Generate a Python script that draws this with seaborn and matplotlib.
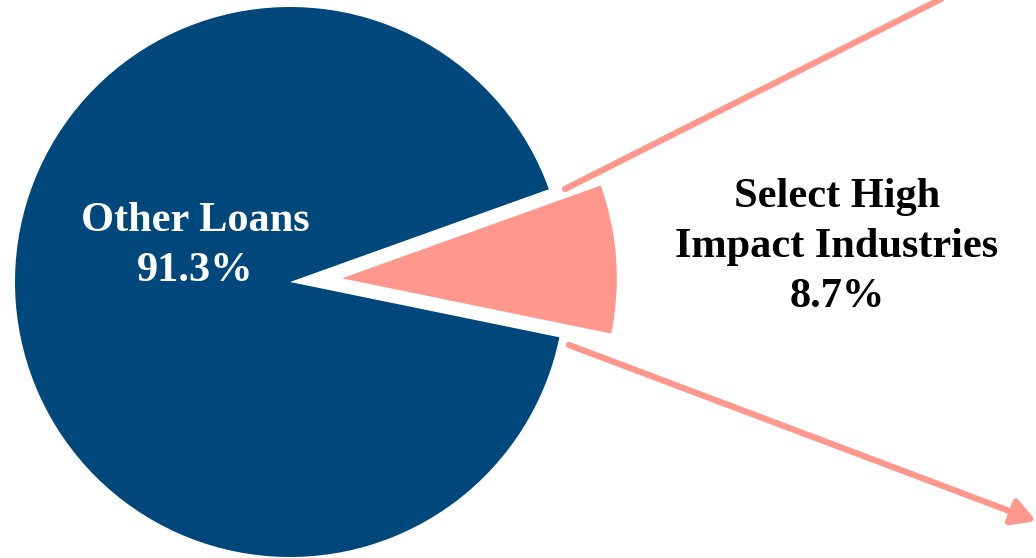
import matplotlib
matplotlib.use("Agg")
import matplotlib.pyplot as plt
import seaborn as sns

sns.set_style("white")
plt.rcParams['font.family'] = ['Liberation Serif', 'DejaVu Serif']

labels = ["Select High\nImpact Industries", "Other Loans"]
values = [8.7, 91.3]
colors = ["#FF978D", "#00487C"]

W, H = 1036, 558
fig = plt.figure(figsize=(W / 100, H / 100), dpi=100)
ax = fig.add_axes([0, 0, 1, 1])

cx, cy, r = 290, H - 282, 275
explode = [52, 0]  # absolute offset in data units
ax.pie(values, colors=colors, explode=explode, startangle=-11.6,
       counterclock=True, center=(cx, cy), radius=r,
       wedgeprops=dict(linewidth=0))

ax.set_xlim(0, W)
ax.set_ylim(0, H)
ax.set_aspect("equal")
ax.axis("off")

salmon = colors[0]
# connector lines
ax.plot([565, 945], [H - 189, H + 3], color=salmon, lw=4.5, solid_capstyle="round")
ax.annotate("", xy=(1036, H - 521), xytext=(569, H - 345),
            arrowprops=dict(arrowstyle="-|>,head_length=1.4,head_width=0.8",
                            color=salmon, lw=4.5, shrinkA=0, shrinkB=0,
                            capstyle="round"))

ax.text(195, H - 246, f"Other Loans\n{values[1]}%", color="white",
        fontsize=30.5, fontweight="bold", ha="center", va="center",
        linespacing=1.42)
ax.text(837, H - 247, f"{labels[0]}\n{values[0]}%", color="black",
        fontsize=30.5, fontweight="bold", ha="center", va="center",
        linespacing=1.42)

fig.savefig("out.png", dpi=100)
